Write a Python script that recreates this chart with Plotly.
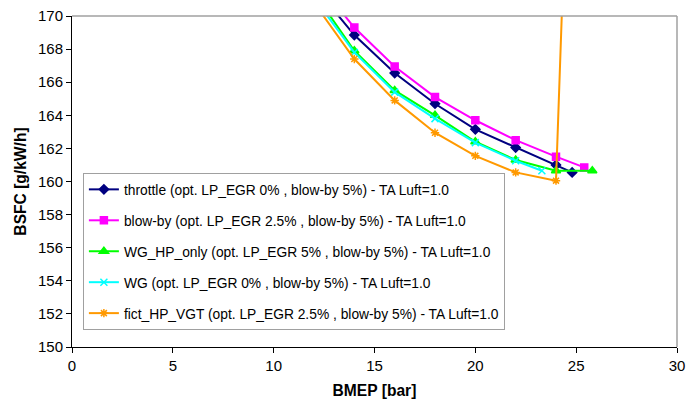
import plotly.graph_objects as go

# BMEP [bar] / BSFC [g/kW/h]
throttle_x = [12, 14, 16, 18, 20, 22, 24, 24.8]
throttle_y = [171.8, 168.85, 166.55, 164.7, 163.15, 162.05, 161.0, 160.55]

blowby_x = [12, 14, 16, 18, 20, 22, 24, 25.4]
blowby_y = [172.3, 169.3, 166.95, 165.1, 163.7, 162.5, 161.5, 160.85]

wghp_x = [12, 14, 16, 18, 20, 22, 24, 25.8]
wghp_y = [171.4, 167.9, 165.5, 164.0, 162.4, 161.3, 160.65, 160.65]

wg_x = [12, 14, 16, 18, 20, 22, 23.3]
wg_y = [171.1, 167.8, 165.4, 163.8, 162.35, 161.25, 160.65]

vgt_x = [12, 14, 16, 18, 20, 22, 24, 24.4]
vgt_y = [170.8, 167.4, 164.9, 162.95, 161.55, 160.55, 160.05, 174.0]

names = [
    "throttle (opt. LP_EGR 0% , blow-by 5%) - TA Luft=1.0",
    "blow-by (opt. LP_EGR 2.5% , blow-by 5%) - TA Luft=1.0",
    "WG_HP_only (opt. LP_EGR 5% , blow-by 5%) - TA Luft=1.0",
    "WG (opt. LP_EGR 0% , blow-by 5%) - TA Luft=1.0",
    "fict_HP_VGT (opt. LP_EGR 2.5% , blow-by 5%) - TA Luft=1.0",
]

series = [
    (throttle_x, throttle_y, "#000080", "diamond", 7),
    (blowby_x, blowby_y, "#FF00FF", "square", 7),
    (wghp_x, wghp_y, "#00FF00", "triangle-up", 8),
    (wg_x, wg_y, "#00FFFF", "x-thin-open", 7),
    (vgt_x, vgt_y, "#FF9900", "asterisk-open", 7),
]

fig = go.Figure()
for i, (xs, ys, col, sym, sz) in enumerate(series):
    fig.add_trace(go.Scatter(
        x=xs, y=ys, name=names[i], mode="lines+markers",
        legendgroup=f"g{i}",
        line=dict(color=col, width=2),
        marker=dict(symbol=sym, size=sz, color=col,
                    line=dict(color=col, width=1.5)),
    ))

fig.update_layout(
    width=699, height=399,
    margin=dict(l=64, r=30, t=8, b=60, autoexpand=False),
    paper_bgcolor="white", plot_bgcolor="white",
    font=dict(family="Liberation Sans, Arial, sans-serif", size=15, color="black"),
    showlegend=True,
    legend=dict(
        x=0.018, y=0.526, xanchor="left", yanchor="top",
        bgcolor="white", bordercolor="#A0A0A0", borderwidth=1,
        font=dict(size=13.8), tracegroupgap=10, itemwidth=30,
    ),
    xaxis=dict(
        range=[0, 30], tickvals=[0, 5, 10, 15, 20, 25, 30],
        showgrid=False, zeroline=False, showline=True, linecolor="black",
        linewidth=1, ticks="outside", ticklen=5, tickcolor="black",
        automargin=False, tickfont=dict(size=15), ticklabeloverflow="allow",
        title=dict(text="<b>BMEP [bar]</b>", standoff=12, font=dict(size=15.6)),
    ),
    yaxis=dict(
        range=[150, 170], tickvals=list(range(150, 171, 2)),
        showgrid=False, zeroline=False, showline=True, linecolor="black",
        linewidth=1, ticks="outside", ticklen=5, tickcolor="black",
        automargin=False, tickfont=dict(size=15), ticklabeloverflow="allow",
        title=dict(text="<b>BSFC [g/kW/h]</b>", standoff=7, font=dict(size=15.6)),
    ),
    shapes=[
        dict(type="line", xref="paper", yref="paper", x0=0, x1=1, y0=1, y1=1,
             line=dict(color="#A0A0A0", width=1.5)),
        dict(type="line", xref="paper", yref="paper", x0=1, x1=1, y0=0, y1=1,
             line=dict(color="#A0A0A0", width=1.5)),
    ],
)

fig.write_html("out.html")
